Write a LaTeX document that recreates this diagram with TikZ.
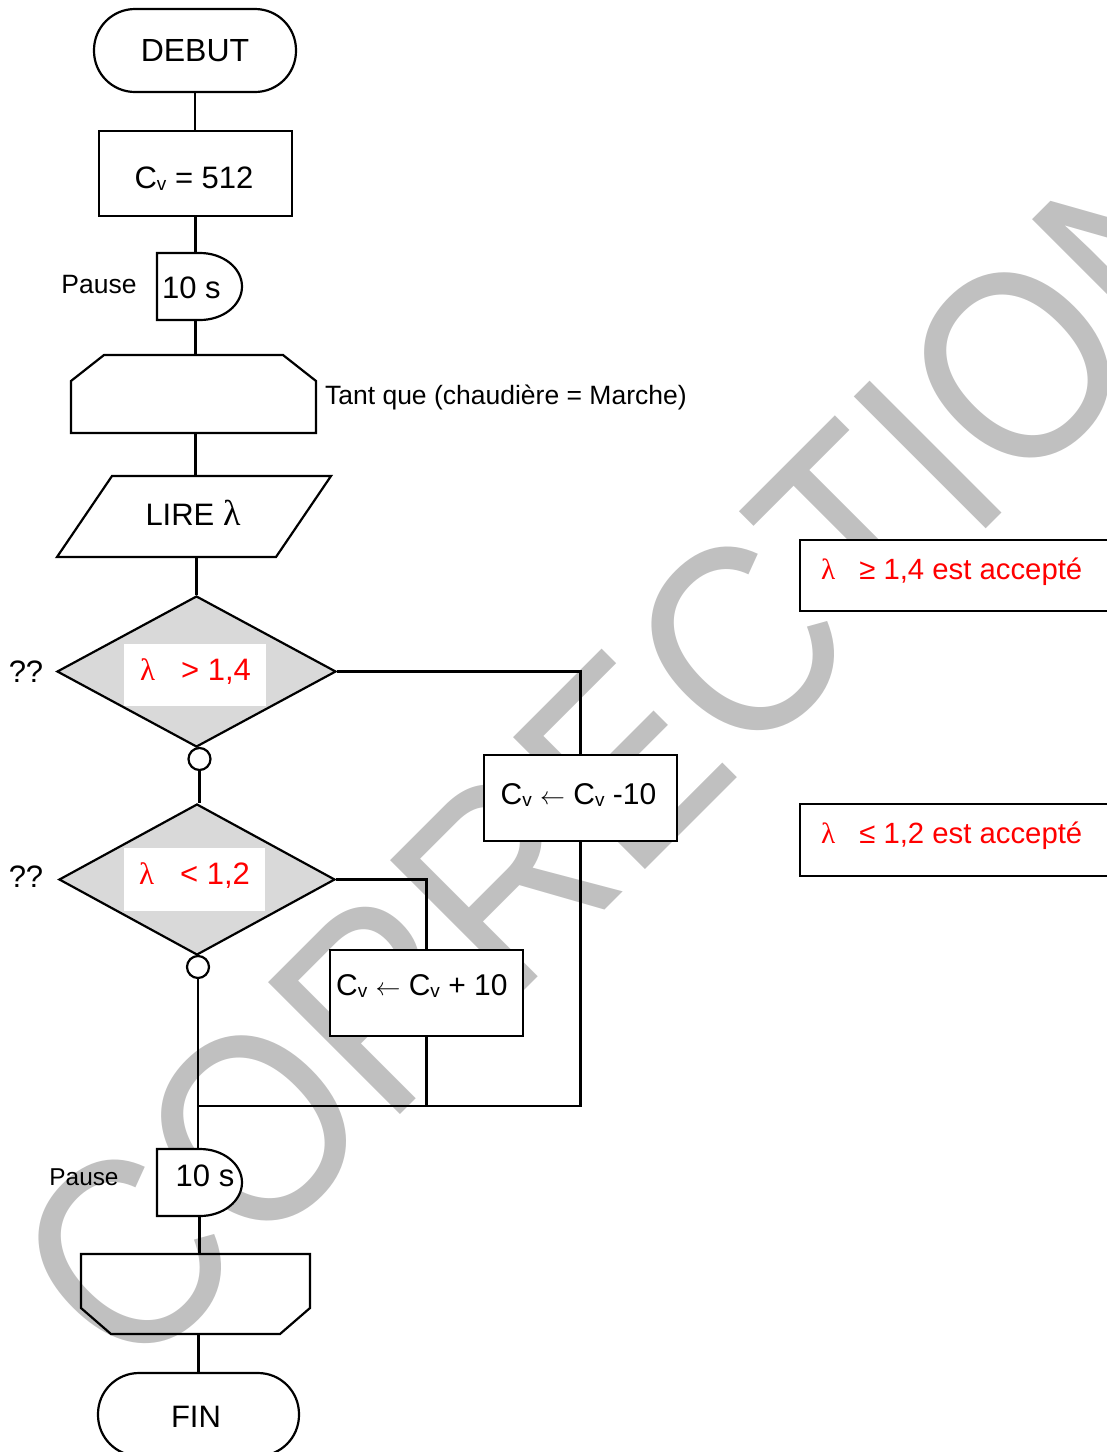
\documentclass[tikz,border=0pt]{standalone}
\usepackage{fontspec}
\setmainfont{Liberation Sans}
\newfontfamily\serifgr{Liberation Serif}
\usetikzlibrary{shapes.geometric}
\definecolor{wm}{RGB}{192,192,192}
\definecolor{dfill}{RGB}{217,217,217}
\newcommand{\mainsz}{\fontsize{31}{36}\selectfont}
\newcommand{\cvsz}{\fontsize{30}{36}\selectfont}
\newcommand{\redsz}{\fontsize{29.3}{34}\selectfont}
\newcommand{\labsz}{\fontsize{26.5}{30}\selectfont}
\newcommand{\Cv}{C\raisebox{-2pt}{\fontsize{19}{19}\selectfont v}}
\newcommand{\lam}{{\serifgr λ}}
\newcommand{\myarrow}{$\leftarrow$}
\begin{document}
\begin{tikzpicture}[x=1pt,y=-1pt,line width=2.2pt,
  procbox/.style={draw,fill=white,inner sep=0pt,font=\mainsz},
  term/.style={draw,fill=white,rounded corners=41pt,inner sep=0pt,font=\mainsz},
  frame/.style={inner sep=0pt,outer sep=0pt},
  dec/.style={diamond,draw,fill=dfill,inner sep=0pt,aspect=1.85},
  whitebox/.style={fill=white,inner sep=0pt},
  junc/.style={circle,draw,fill=white,minimum size=22pt,inner sep=0pt},
  redtxt/.style={text=red,font=\mainsz,inner sep=0pt},
  note/.style={draw,fill=white,inner sep=0pt,minimum width=320pt}]
\useasboundingbox (0,0) rectangle (1107,1452);
\clip (0,0) rectangle (1107,1452);

% watermark
\node[anchor=base west,inner sep=0pt,rotate=45,yscale=1.13,transform shape,text=wm]
  (wmk) at (131,1384) {\fontsize{240}{240}\selectfont CORRECTION};

% nodes
\node[term,minimum width=202pt,minimum height=83pt] (debut) at (195,50.5) {\fontsize{32}{36}\selectfont DEBUT};
\node[procbox,minimum width=193pt,minimum height=85pt] (cv) at (195.5,173.5) {};
\node[font=\mainsz,inner sep=0pt] (cvt) at (194,179) {\Cv{} = 512};

\node[frame,minimum width=85pt,minimum height=67pt] (p1) at (199.5,286.5) {};
\draw[fill=white] (p1.north west) -- ++(43,0) arc[start angle=-90,end angle=90,x radius=42,y radius=33.5] -- (p1.south west) -- cycle;
\node[font=\mainsz,anchor=west,inner sep=0pt] (p1t) at (161,288) {10 s};
\node[font=\labsz,inner sep=0pt] (pause1) at (99,285) {Pause};

\node[frame,minimum width=245pt,minimum height=78pt] (lt) at (193.5,394) {};
\draw[fill=white] ([xshift=33pt]lt.north west) -- ([xshift=-33pt]lt.north east) -- ([yshift=-26pt]lt.north east) -- (lt.south east) -- (lt.south west) -- ([yshift=-26pt]lt.north west) -- cycle;
\node[font=\labsz,anchor=west,inner sep=0pt] (tq) at (324,397) {Tant que (chaudière = Marche)};

\node[frame,minimum width=274pt,minimum height=81pt] (lire) at (194,516.5) {};
\draw[fill=white] ([xshift=55pt]lire.north west) -- (lire.north east) -- ([xshift=-55pt]lire.south east) -- (lire.south west) -- cycle;
\node[font=\mainsz,inner sep=0pt] (liret) at (193,513) {LIRE {\fontsize{36}{36}\selectfont\lam}};

\node[dec,minimum width=279pt,minimum height=151pt] (d1) at (196.5,671.5) {};
\node[whitebox,minimum width=142pt,minimum height=62pt] (d1w) at (195,675) {};
\node[redtxt] (d1t) at (195.5,672) {\lam\hspace{26pt}> 1,4};
\node[font=\mainsz,inner sep=0pt] (q1) at (26,672) {??};
\node[junc] (c1) at (199.5,759) {};

\node[dec,minimum width=276pt,minimum height=151pt] (d2) at (197,879.5) {};
\node[whitebox,minimum width=141pt,minimum height=63pt] (d2w) at (194.5,879.5) {};
\node[redtxt] (d2t) at (194.5,876) {\lam\hspace{26pt}< 1,2};
\node[font=\mainsz,inner sep=0pt] (q2) at (26,877) {??};
\node[junc] (c2) at (198,967) {};

\node[procbox,minimum width=193pt,minimum height=86pt] (m10) at (580.5,798) {};
\node[font=\cvsz,inner sep=0pt] (m10t) at (578.5,795) {\Cv{} \myarrow{} \Cv{} -10};
\node[procbox,minimum width=193pt,minimum height=86pt] (p10) at (426.5,993) {};
\node[font=\cvsz,anchor=west,inner sep=0pt] (p10t) at (335,986) {\Cv{} \myarrow{} \Cv{} + 10};

\coordinate (jr) at (580.5,1106);

\node[frame,minimum width=85pt,minimum height=67pt] (p2) at (199.5,1182.5) {};
\draw[fill=white] (p2.north west) -- ++(43,0) arc[start angle=-90,end angle=90,x radius=42,y radius=33.5] -- (p2.south west) -- cycle;
\node[font=\mainsz,inner sep=0pt] (p2t) at (205,1176) {10 s};
\node[font=\labsz,inner sep=0pt,scale=0.92] (pause2) at (84,1177) {Pause};

\node[frame,minimum width=229pt,minimum height=80pt] (le) at (195.5,1294) {};
\draw (le.north west) -- (le.north east) -- ([yshift=26pt]le.south east) -- ([xshift=-30pt]le.south east) -- ([xshift=30pt]le.south west) -- ([yshift=26pt]le.south west) -- cycle;

\node[term,minimum width=201pt,minimum height=83pt] (fin) at (198.5,1414.5) {};
\node[font=\mainsz,inner sep=0pt] (fint) at (196,1417) {FIN};

% notes
\node[note,minimum height=71pt] (a1) at (960,575.5) {};
\node[text=red,font=\redsz,anchor=west,inner sep=0pt] (a1t) at (820,572) {\lam\hspace{24pt}≥ 1,4 est accepté};
\node[note,minimum height=72pt] (a2) at (960,840) {};
\node[text=red,font=\redsz,anchor=west,inner sep=0pt] (a2t) at (820,836) {\lam\hspace{24pt}≤ 1,2 est accepté};

% connectors
\draw (debut.south) -- (debut.south |- cv.north);
\draw (cv.south) -- (cv.south |- p1.north);
\draw (cv.south |- p1.south) -- (cv.south |- lt.north);
\draw (cv.south |- lt.south) -- (cv.south |- lire.north);
\draw (d1.north |- lire.south) -- (d1.north);
\draw (c1.north |- d1.south) -- (c1.north);
\draw (c1.south) -- (c1.south |- d2.north);
\draw (c2.north |- d2.south) -- (c2.north);
\draw (d1.east) -- (d1.east -| m10.north) -- (m10.north);
\draw (m10.south) -- (jr) -- (jr -| c2.south);
\draw (d2.east) -- (d2.east -| p10.north) -- (p10.north);
\draw (p10.south) -- (p10.south |- jr);
\draw (c2.south) -- (c2.south |- p2.north);
\draw (p2.south) -- (p2.south |- le.north);
\draw (fin.north |- le.south) -- (fin.north);
\end{tikzpicture}
\end{document}
